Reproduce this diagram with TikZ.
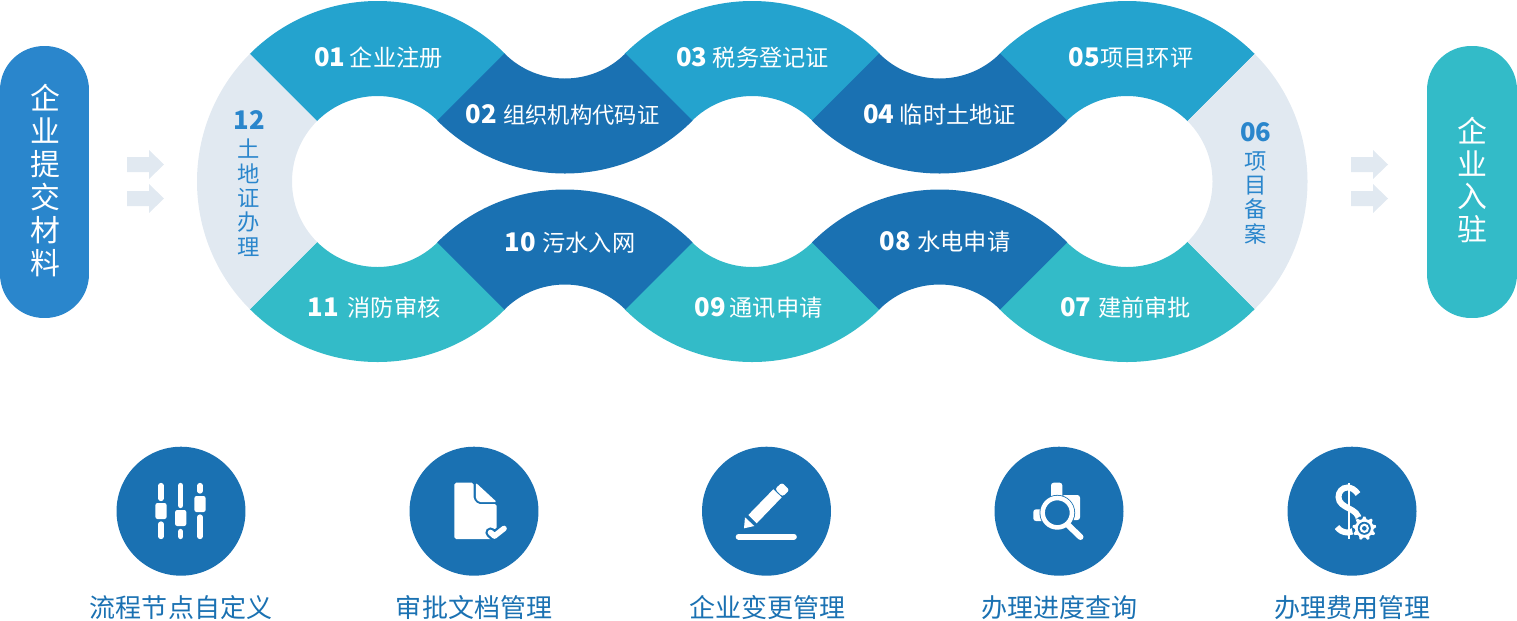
\documentclass[tikz,border=0pt]{standalone}
\usepackage{fontspec}
\setmainfont{Open Sans}
\newfontfamily\cjk{Noto Sans CJK SC}

\definecolor{bandsky}{HTML}{24A3CE}
\definecolor{banddeep}{HTML}{1A71B2}
\definecolor{bandteal}{HTML}{33BBC8}
\definecolor{bandpale}{HTML}{E1E9F1}
\definecolor{pillblue}{HTML}{2A86CC}

\newcommand{\numlab}[1]{{\fontsize{14.6}{15}\selectfont\bfseries #1}}

\tikzset{
  pillbox/.style={rounded corners=25pt, minimum height=5.44cm, inner sep=0pt},
  pilltext/.style={text=white, inner sep=0pt, align=center, font=\cjk\fontsize{17}{18.7}\selectfont},
  bandlab/.style={text=white, inner sep=0pt, font=\cjk\fontsize{13.2}{15}\selectfont},
  sidelab/.style={text=pillblue, inner sep=0pt, align=center, font=\cjk\fontsize{12.7}{13.9}\selectfont},
  iconbg/.style={circle, fill=banddeep, minimum size=2.58cm, inner sep=0pt},
  iconlab/.style={text=banddeep, inner sep=0pt, font=\cjk\fontsize{14.8}{16}\selectfont},
  slider/.style={white, line width=3pt, line cap=round}
}

\begin{document}
\begin{tikzpicture}[x=0.02cm, y=-0.02cm]
  \useasboundingbox (0,0) rectangle (1517,620);
  % 左右两端
  \node[pillbox, fill=pillblue, minimum width=1.78cm] (submit) at (44.5,182) {};
  \node[pillbox, fill=bandteal, minimum width=1.8cm] (enter) at (1472,182) {};
  \node[pilltext] (submitlab) at (45,180.5) {企\\业\\提\\交\\材\\料};
  \node[pilltext] (enterlab) at (1472,180) {企\\业\\入\\驻};
  % 小箭头
  \foreach \x in {127,1351} {
    \foreach \y in {164.5,198.5} {
      \fill[bandpale, shift={(\x,\y)}] (0,-7.5) -- (22,-7.5) -- (22,-14.5) -- (37,0) -- (22,14.5) -- (22,7.5) -- (0,7.5) -- cycle;
    }
  }
  % 环形色带
  \begin{scope}[y=0.02cm]
    \foreach \cx/\cy/\a/\col in {377.5/-181.5/45/bandsky, 752.2/-181.5/45/bandsky, 1127/-181.5/45/bandsky,
        564.9/7/225/banddeep, 939.6/7/225/banddeep, 377.5/-181.5/225/bandteal, 752.2/-181.5/225/bandteal,
        1127/-181.5/225/bandteal, 564.9/-370/45/banddeep, 939.6/-370/45/banddeep,
        377.5/-181.5/135/bandpale, 1127/-181.5/-45/bandpale} {
      \fill[\col, shift={(\cx,\cy)}] (\a:180.5) arc[start angle=\a, delta angle=90, radius=180.5]
        -- ({\a+90}:85.5) arc[start angle={\a+90}, delta angle=-90, radius=85.5] -- cycle;
    }
  \end{scope}
  % 色带文字
  \foreach \x/\y/\n/\g/\lab in {378.5/57.8/01/2.5/企业注册, 562.5/114.8/02/3.8/{\fontsize{12.7}{15}\selectfont 组织机构代码证}, 752.5/57.8/03/3.2/税务登记证,
      939.5/114.8/04/3.2/临时土地证, 1131/57.8/05/0.2/项目环评, 1125.5/307.8/07/3.8/建前审批, 945/241.8/08/3.8/水电申请,
      758.5/307.8/09/2.2/通讯申请, 570/242.8/10/3.8/污水入网, 374/307.8/11/5/消防审核} {
    \node[bandlab] (step\n) at (\x,\y) {\numlab{\n}\hspace{\g pt}\lab};
  }
  \node[sidelab] (step12) at (249,183.5) {\numlab{12}\\[2pt]土\\地\\证\\办\\理};
  \node[sidelab] (step06) at (1255.7,183.5) {\numlab{06}\\[1.5pt]项\\目\\备\\案};
  % 下排圆标与文字
  \foreach \i/\x/\lx/\lab in {1/181/181/流程节点自定义, 2/474/474/审批文档管理, 3/766.5/767/企业变更管理,
      4/1059/1059.5/办理进度查询, 5/1352/1352.5/办理费用管理} {
    \node[iconbg] (ico\i) at (\x,511.2) {};
    \node[iconlab] (icolab\i) at (\lx,607.5) {\lab};
  }
  % 滑块
  \foreach \x/\t/\h/\b in {161/501/503/521.5, 180.7/508/510/529, 200/493.5/496/514.5} {
    \draw[slider] (\x,485.5) -- (\x,\t-2.5);
    \draw[slider] (\x,\b+2.5) -- (\x,536.5);
    \fill[white, rounded corners=1.2pt] (\x-5.6,\h) rectangle (\x+5.6,\h+16);
  }
  % 文档
  \fill[white, rounded corners=1pt] (454.3,482.7) -- (473.5,482.7) -- (473.5,499) -- (478,504) -- (496.7,504) -- (496.7,539) -- (454.3,539) -- cycle;
  \fill[white, rounded corners=0.8pt] (475.8,482.7) -- (496.7,502) -- (479,502) -- (475.8,498.5) -- cycle;
  \draw[banddeep, line width=5.8pt, line cap=round, line join=round] (490.5,532.5) -- (494.5,536) -- (504,528.5);
  \draw[white, line width=3.2pt, line cap=round, line join=round] (490.5,532.5) -- (494.5,536) -- (504,528.5);
  % 铅笔
  \fill[white] (744,528.3) -- (745,517.3) -- (754.3,526) -- cycle;
  \fill[white] (748.3,515) -- (756.7,523.3) -- (781.7,497.3) -- (773.3,489.3) -- cycle;
  \fill[white, rounded corners=1.5pt] (775,489) -- (782,482.5) -- (789.5,490) -- (782.5,496.7) -- cycle;
  \draw[white, line width=3.2pt, line cap=round] (738.5,536.7) -- (794,536.7);
  % 放大镜
  \fill[white, rounded corners=1.5pt] (1051,482.7) rectangle (1062.3,498);
  \fill[white, rounded corners=1.5pt] (1062,495) rectangle (1080,520);
  \fill[white, rounded corners=1.5pt] (1033.3,509.3) rectangle (1045,521);
  \fill[banddeep] (1057.3,512.7) circle (17.8);
  \draw[white, line width=2.6pt] (1057.3,512.7) circle (14.7);
  \draw[white, line width=3.4pt, line cap=round] (1068,525) -- (1080.5,537);
  % 美元与齿轮
  \draw[white, line width=1.3pt] (1349,483) -- (1349,539);
  \draw[white, line width=3.4pt] (1358,494) .. controls (1355,489.5) and (1351,487.5) .. (1347.5,487.5)
    .. controls (1342,487.5) and (1338.5,492) .. (1338.5,497) .. controls (1338.5,503) and (1344,506) .. (1349,508.5)
    .. controls (1354,511) and (1359,514) .. (1359,521) .. controls (1359,528) and (1353,532.5) .. (1347.5,532.5)
    .. controls (1343,532.5) and (1339,530) .. (1337,527);
  \fill[banddeep] (1364.3,528.3) circle (12.5);
  \fill[white] (1364.3,528.3) circle (9.4);
  \foreach \a in {0,40,...,320} {
    \fill[white, shift={(1364.3,528.3)}, rotate=\a] (-2.4,-8.5) -- (-1,-11.8) -- (1,-11.8) -- (2.4,-8.5) -- cycle;
  }
  \fill[banddeep] (1364.3,528.3) circle (6.5);
  \fill[white] (1364.3,528.3) circle (4.7);
  \fill[banddeep] (1364.3,528.3) circle (2.3);
\end{tikzpicture}
\end{document}
